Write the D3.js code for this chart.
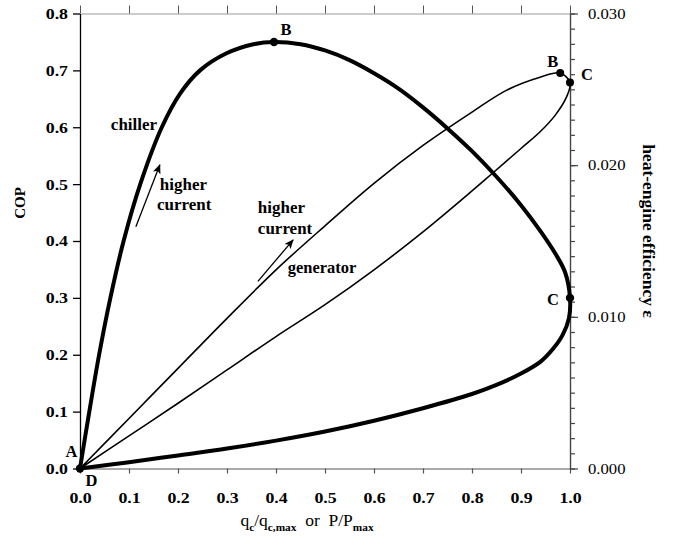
<!DOCTYPE html>
<html>
<head>
<meta charset="utf-8">
<script src="https://cdn.jsdelivr.net/npm/d3@7"></script>
<style>
  body { margin: 0; background: #fff; }
  text { font-family: "Liberation Serif", "Times New Roman", serif; fill: #000; }
</style>
</head>
<body>
<script>
"use strict";
// chiller loop: COP vs qc/qc,max, A -> B -> C -> D
const chillerQ   = [0, 0.019, 0.039, 0.062, 0.089, 0.123, 0.167, 0.205, 0.245, 0.299, 0.354, 0.396, 0.45, 0.5, 0.55, 0.6, 0.65, 0.7, 0.75, 0.8, 0.85, 0.9, 0.94, 0.97, 0.99, 1.0,
                    0.998, 0.985, 0.965, 0.94, 0.9, 0.85, 0.8, 0.7, 0.6, 0.5, 0.4, 0.3, 0.2, 0.1, 0];
const chillerCOP = [0, 0.1, 0.2, 0.3, 0.4, 0.5, 0.6, 0.66, 0.70, 0.73, 0.746, 0.75, 0.746, 0.735, 0.718, 0.695, 0.668, 0.635, 0.598, 0.558, 0.513, 0.463, 0.417, 0.378, 0.345, 0.30,
                    0.265, 0.235, 0.21, 0.188, 0.167, 0.147, 0.131, 0.106, 0.084, 0.065, 0.049, 0.035, 0.023, 0.011, 0];

// generator loop: efficiency vs P/Pmax, D -> B -> C -> D
const genP   = [0, 0.1, 0.2, 0.3, 0.4, 0.5, 0.6, 0.7, 0.8, 0.871, 0.939, 0.98, 1.0,
                0.993, 0.97, 0.939, 0.9, 0.843, 0.8, 0.7, 0.6, 0.5, 0.4, 0.3, 0.2, 0.1, 0];
const genEff = [0, 0.0033, 0.0066, 0.0099, 0.0131, 0.0160, 0.0188, 0.0213, 0.0235, 0.02495, 0.0258, 0.02607, 0.02545,
                0.0245, 0.0233, 0.0222, 0.0211, 0.0195, 0.0183, 0.0156, 0.0131, 0.0108, 0.0087, 0.0065, 0.0043, 0.00215, 0];

const xTicks = [0, 0.1, 0.2, 0.3, 0.4, 0.5, 0.6, 0.7, 0.8, 0.9, 1.0];
const copTicks = [0, 0.1, 0.2, 0.3, 0.4, 0.5, 0.6, 0.7, 0.8];
const effTicks = [0, 0.010, 0.020, 0.030];
const effMinor = d3.range(0, 31).map(i => i / 1000);

// marked points: [x, value]
const chillerDots = [[0, 0], [0.396, 0.75], [1.0, 0.30]];
const genDots = [[0.98, 0.02607], [1.0, 0.02545]];

const measurements = { width: 674, height: 546, left: 80, right: 570, top: 13.5, bottom: 468.5 };
const sx = 1.15;  // tick lettering is a bit wide in the original
const sxT = 1.03; // annotations

const svg = d3.select("body").append("svg")
    .attr("width", measurements.width)
    .attr("height", measurements.height);

const x = d3.scaleLinear().domain([0, 1]).range([measurements.left, measurements.right]);
const yCop = d3.scaleLinear().domain([0, 0.8]).range([measurements.bottom, measurements.top]);
const yEff = d3.scaleLinear().domain([0, 0.03]).range([measurements.bottom, measurements.top]);

function stretch(sel) {
    sel.each(function() {
        const t = d3.select(this);
        const xv = +t.attr("x") || 0;
        t.attr("x", xv / sx).attr("transform", `scale(${sx},1)`);
    });
}

function label(px, py, txt, size, anchor) {
    return svg.append("text")
        .attr("transform", `translate(${px},${py}) scale(${sxT},1)`)
        .attr("text-anchor", anchor || "start")
        .style("font-size", size + "px")
        .style("font-weight", "bold")
        .text(txt);
}

// axes
const gTop = svg.append("g")
    .attr("transform", `translate(0,${measurements.top})`)
    .call(d3.axisTop(x).tickValues(xTicks).tickSize(8).tickSizeOuter(0).tickFormat(""));
gTop.selectAll("path").attr("stroke", "#999");
gTop.selectAll("line").attr("stroke", "#555");

const gBottom = svg.append("g")
    .attr("transform", `translate(0,${measurements.bottom})`)
    .call(d3.axisBottom(x).tickValues(xTicks).tickSize(5).tickPadding(18).tickSizeOuter(0).tickFormat(d3.format(".1f")));
gBottom.selectAll("path, line").attr("stroke", "#555").attr("stroke-width", 1.2);
gBottom.selectAll("text").style("font-size", "15.5px").style("font-weight", "bold").call(stretch);

const gLeft = svg.append("g")
    .attr("transform", `translate(${measurements.left},0)`)
    .call(d3.axisLeft(yCop).tickValues(copTicks).tickSize(7).tickPadding(5).tickSizeOuter(0).tickFormat(d3.format(".1f")));
gLeft.selectAll("path, line").attr("stroke", "#000").attr("stroke-width", 1.3);
gLeft.selectAll("text").style("font-size", "15.5px").style("font-weight", "bold").call(stretch);

const gRightMinor = svg.append("g")
    .attr("transform", `translate(${measurements.right},0)`)
    .call(d3.axisRight(yEff).tickValues(effMinor).tickSize(5).tickSizeOuter(0).tickFormat(""));
gRightMinor.selectAll("path, line").attr("stroke", "#444").attr("stroke-width", 1.2);

const gRight = svg.append("g")
    .attr("transform", `translate(${measurements.right},0)`)
    .call(d3.axisRight(yEff).tickValues(effTicks).tickSize(8).tickPadding(10).tickSizeOuter(0).tickFormat(d3.format(".3f")));
gRight.selectAll("path, line").attr("stroke", "#444").attr("stroke-width", 1.2);
gRight.selectAll("text").style("font-size", "14.5px").call(stretch);

// axis titles
svg.append("text")
    .attr("transform", "translate(25,203) rotate(-90)")
    .attr("text-anchor", "middle")
    .style("font-size", "15px").style("font-weight", "bold")
    .text("COP");

svg.append("text")
    .attr("transform", "translate(643,231) rotate(90)")
    .attr("text-anchor", "middle")
    .style("font-size", "17.5px").style("font-weight", "bold")
    .text("heat-engine efficiency \u03b5");

const xt = svg.append("text")
    .attr("transform", `translate(307,526) scale(${sxT},1)`)
    .attr("text-anchor", "middle")
    .attr("xml:space", "preserve")
    .style("font-size", "17px");
xt.append("tspan").text("q");
xt.append("tspan").attr("dy", 5).style("font-size", "11px").style("font-weight", "bold").text("c");
xt.append("tspan").attr("dy", -5).text("/q");
xt.append("tspan").attr("dy", 5).style("font-size", "11px").style("font-weight", "bold").text("c,max");
xt.append("tspan").attr("dy", -5).text("  or  P/P");
xt.append("tspan").attr("dy", 5).style("font-size", "11px").style("font-weight", "bold").text("max");

// curves
const chiller = chillerQ.map((q, i) => [q, chillerCOP[i]]);
const generator = genP.map((p, i) => [p, genEff[i]]);

svg.append("path")
    .datum(generator)
    .attr("fill", "none")
    .attr("stroke", "#000")
    .attr("stroke-width", 1.6)
    .attr("d", d3.line().x(d => x(d[0])).y(d => yEff(d[1])).curve(d3.curveCatmullRom.alpha(0.5)));

svg.append("path")
    .datum(chiller)
    .attr("fill", "none")
    .attr("stroke", "#000")
    .attr("stroke-width", 4)
    .attr("stroke-linejoin", "round")
    .attr("d", d3.line().x(d => x(d[0])).y(d => yCop(d[1])).curve(d3.curveCatmullRom.alpha(0.5)));

svg.selectAll(".cdot")
    .data(chillerDots)
    .enter().append("circle")
    .attr("cx", d => x(d[0]))
    .attr("cy", d => yCop(d[1]))
    .attr("r", 4.2);

svg.selectAll(".gdot")
    .data(genDots)
    .enter().append("circle")
    .attr("cx", d => x(d[0]))
    .attr("cy", d => yEff(d[1]))
    .attr("r", 4);

// point letters
label(x(0) - 8.5, yCop(0) - 11.5, "A", 16, "middle");
label(x(0) + 11.5, yCop(0) + 17.5, "D", 16, "middle");
label(x(0.396) + 12, yCop(0.75) - 7, "B", 16, "middle");
label(x(1.0) - 17, yCop(0.30) + 7, "C", 16, "middle");
label(x(0.98) - 7.5, yEff(0.02607) - 6, "B", 16, "middle");
label(x(1.0) + 17, yEff(0.02545) - 3, "C", 16, "middle");

// annotations
label(x(0.063), yCop(0.595), "chiller", 16.5);
label(x(0.163), yCop(0.49), "higher", 16.5);
label(x(0.157), yCop(0.4545), "current", 16.5);
label(x(0.363), yCop(0.449), "higher", 16.5);
label(x(0.363), yCop(0.412), "current", 16.5);
label(x(0.424), yCop(0.344), "generator", 16);

svg.append("defs").append("marker")
    .attr("id", "head")
    .attr("viewBox", "0 0 12 10")
    .attr("refX", 11).attr("refY", 5)
    .attr("markerWidth", 11).attr("markerHeight", 8)
    .attr("markerUnits", "userSpaceOnUse")
    .attr("orient", "auto")
    .append("path")
    .attr("d", "M0,0 L12,5 L0,10 L3,5 Z")
    .attr("fill", "#000");

const arrows = [[0.114, 0.425, 0.163, 0.534], [0.363, 0.329, 0.435, 0.402]];
svg.selectAll(".arrow")
    .data(arrows)
    .enter().append("line")
    .attr("x1", d => x(d[0])).attr("y1", d => yCop(d[1]))
    .attr("x2", d => x(d[2])).attr("y2", d => yCop(d[3]))
    .attr("stroke", "#000")
    .attr("stroke-width", 1.3)
    .attr("marker-end", "url(#head)");
</script>
</body>
</html>
